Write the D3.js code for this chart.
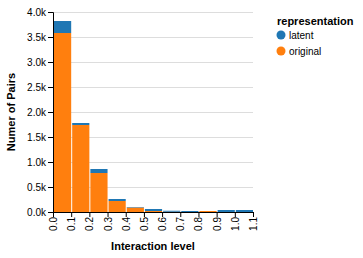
<!DOCTYPE html>
<html>
<head>
<meta charset="utf-8">
<script src="https://cdn.jsdelivr.net/npm/d3@7"></script>
<style>
  body { margin: 0; background: #fff; }
  text { font-family: "Liberation Sans", Arial, sans-serif; }
</style>
</head>
<body>
<svg id="chart" width="363" height="258"></svg>
<script>
// bin starts (width 0.1)
const binStarts = [0.0, 0.1, 0.2, 0.3, 0.4, 0.5, 0.6, 0.7, 0.8, 0.9, 1.0];
const original = [3580, 1740, 780, 220, 90, 20, 5, 0, 20, 0, 0];
const latent   = [240, 40, 80, 40, 10, 40, 20, 20, 0, 40, 40];
const series = ["latent", "original"];
const colors = ["#1f77b4", "#ff7f0e"];
const xTicks = [0.0, 0.1, 0.2, 0.3, 0.4, 0.5, 0.6, 0.7, 0.8, 0.9, 1.0, 1.1];
const yTicks = [0, 500, 1000, 1500, 2000, 2500, 3000, 3500, 4000];

const svg = d3.select("#chart");
const m = { left: 53, top: 12 };
const w = 200, h = 200;

const x = d3.scaleLinear().domain([0, 1.1]).range([0, w]);
const y = d3.scaleLinear().domain([0, 4000]).range([h, 0]);
const color = d3.scaleOrdinal().domain(series).range(colors);

const g = svg.append("g").attr("transform", `translate(${m.left},${m.top})`);

// grid
g.append("g").selectAll("line").data(yTicks).enter().append("line")
  .attr("x1", 0).attr("x2", w)
  .attr("y1", d => y(d) + 0.5).attr("y2", d => y(d) + 0.5)
  .attr("stroke", "#ddd");

// stacked bars: original at bottom, latent on top
const rows = binStarts.map((s, i) => ({ start: s, original: original[i], latent: latent[i] }));
const stack = d3.stack().keys(["original", "latent"])(rows);

g.append("g").selectAll("g").data(stack).enter().append("g")
  .attr("fill", d => color(d.key))
  .selectAll("rect").data(d => d).enter().append("rect")
  .attr("x", d => x(d.data.start) + 1)
  .attr("width", d => x(d.data.start + 0.1) - x(d.data.start) - 1)
  .attr("y", d => y(d[1]))
  .attr("height", d => y(d[0]) - y(d[1]));

// y axis
const yAxis = g.append("g")
  .call(d3.axisLeft(y).tickValues(yTicks).tickSize(5).tickPadding(2)
    .tickFormat(d => d3.format(".1f")(d / 1000) + "k"));
yAxis.select(".domain").attr("stroke", "#000");
yAxis.selectAll(".tick line").attr("stroke", "#000");
yAxis.selectAll("text").attr("font-size", 10).attr("fill", "#000")
  .style("font-family", "Liberation Sans, Arial, sans-serif");

// x axis
const xAxis = g.append("g").attr("transform", `translate(0,${h})`)
  .call(d3.axisBottom(x).tickValues(xTicks).tickSize(5).tickFormat(d3.format(".1f")));
xAxis.select(".domain").attr("stroke", "#000");
xAxis.selectAll(".tick line").attr("stroke", "#000");
xAxis.selectAll("text").attr("font-size", 10).attr("fill", "#000")
  .style("font-family", "Liberation Sans, Arial, sans-serif")
  .attr("transform", "rotate(-90)")
  .attr("text-anchor", "end")
  .attr("x", -5).attr("y", 0).attr("dy", "0.35em");

// axis titles
svg.append("text").attr("x", m.left + w / 2).attr("y", 250)
  .attr("text-anchor", "middle").attr("font-size", 11).attr("font-weight", "bold")
  .text("Interaction level");
svg.append("text").attr("transform", `translate(15,${m.top + h / 2}) rotate(-90)`)
  .attr("text-anchor", "middle").attr("font-size", 11).attr("font-weight", "bold")
  .text("Numer of Pairs");

// legend
const lg = svg.append("g").attr("transform", "translate(277,0)");
lg.append("text").attr("x", 0).attr("y", 25).attr("font-size", 11).attr("font-weight", "bold")
  .text("representation");
const items = lg.selectAll("g.item").data(series).enter().append("g")
  .attr("transform", (d, i) => `translate(0,${35 + i * 16})`);
items.append("circle").attr("cx", 4).attr("cy", 0).attr("r", 4.5).attr("fill", d => color(d));
items.append("text").attr("x", 12).attr("y", 0).attr("dy", "0.35em").attr("font-size", 10)
  .text(d => d);
</script>
</body>
</html>
